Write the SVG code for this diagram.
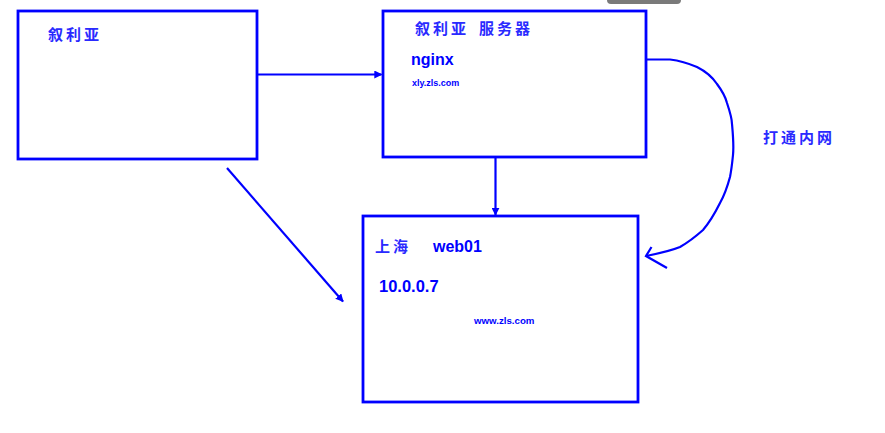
<svg xmlns="http://www.w3.org/2000/svg" width="885" height="433" viewBox="0 0 885 433">
<defs>
<style>
.box{fill:#fff;stroke:#0000ff;stroke-width:2.8}
.ln{fill:none;stroke:#0000ff;stroke-width:2.2}
.cn{font-family:"Noto Sans CJK SC",sans-serif;font-weight:bold;fill:#2a2aff;font-size:15px;letter-spacing:3px}
.en{font-family:"Liberation Sans",Arial,sans-serif;font-weight:bold;fill:#0000ff}
</style>
<marker id="ah" viewBox="0 0 10 10" refX="9" refY="5" markerWidth="8" markerHeight="8" markerUnits="userSpaceOnUse" orient="auto">
<path d="M0,0 L10,5 L0,10 Z" fill="#0000ff"/>
</marker>
</defs>
<rect width="885" height="433" fill="#fff"/>
<rect x="607" y="-6" width="74" height="10" rx="4" fill="#7a7a7a"/>
<g id="node-syria">
<rect class="box" x="18" y="11" width="239" height="148"/>
<text class="cn" x="48" y="40">叙利亚</text>
</g>
<g id="node-server">
<rect class="box" x="383" y="11" width="263" height="146"/>
<text class="cn" x="415" y="34">叙利亚</text>
<text class="cn" x="479" y="34">服务器</text>
<text class="en" x="411" y="65" font-size="16">nginx</text>
<text class="en" x="412" y="86" font-size="9">xly.zls.com</text>
</g>
<g id="node-shanghai">
<rect class="box" x="363" y="216" width="275" height="186"/>
<text class="cn" x="375" y="252" letter-spacing="1">上海</text>
<text class="en" x="433" y="252" font-size="16">web01</text>
<text class="en" x="379" y="292" font-size="16.5">10.0.0.7</text>
<text class="en" x="474" y="324" font-size="9.7">www.zls.com</text>
</g>
<g id="label-intranet">
<text class="cn" x="763" y="143">打通内网</text>
</g>
<g id="connectors">
<path class="ln" d="M257,74.5 L381.5,74.5" marker-end="url(#ah)"/>
<path class="ln" d="M495.5,157 L495.5,215" marker-end="url(#ah)"/>
<path class="ln" d="M227,168 L343,301.5" marker-end="url(#ah)"/>
<path class="ln" d="M646,59.5 L670,59.5 C682,61 690,64 697,67 C707,72 713,78 717,84 C723,92 726,99 727,103 C730,112 732,118 732,124 C733,135 734,145 733,155 C732,165 731,172 730,177 C727,188 724,196 720,203 C714,215 709,223 703,230 C694,238 687,243 680,247 C670,251 661,253 646,256"/>
<path class="ln" d="M651.5,247 L646,256 L667,268"/>
</g>
</svg>
